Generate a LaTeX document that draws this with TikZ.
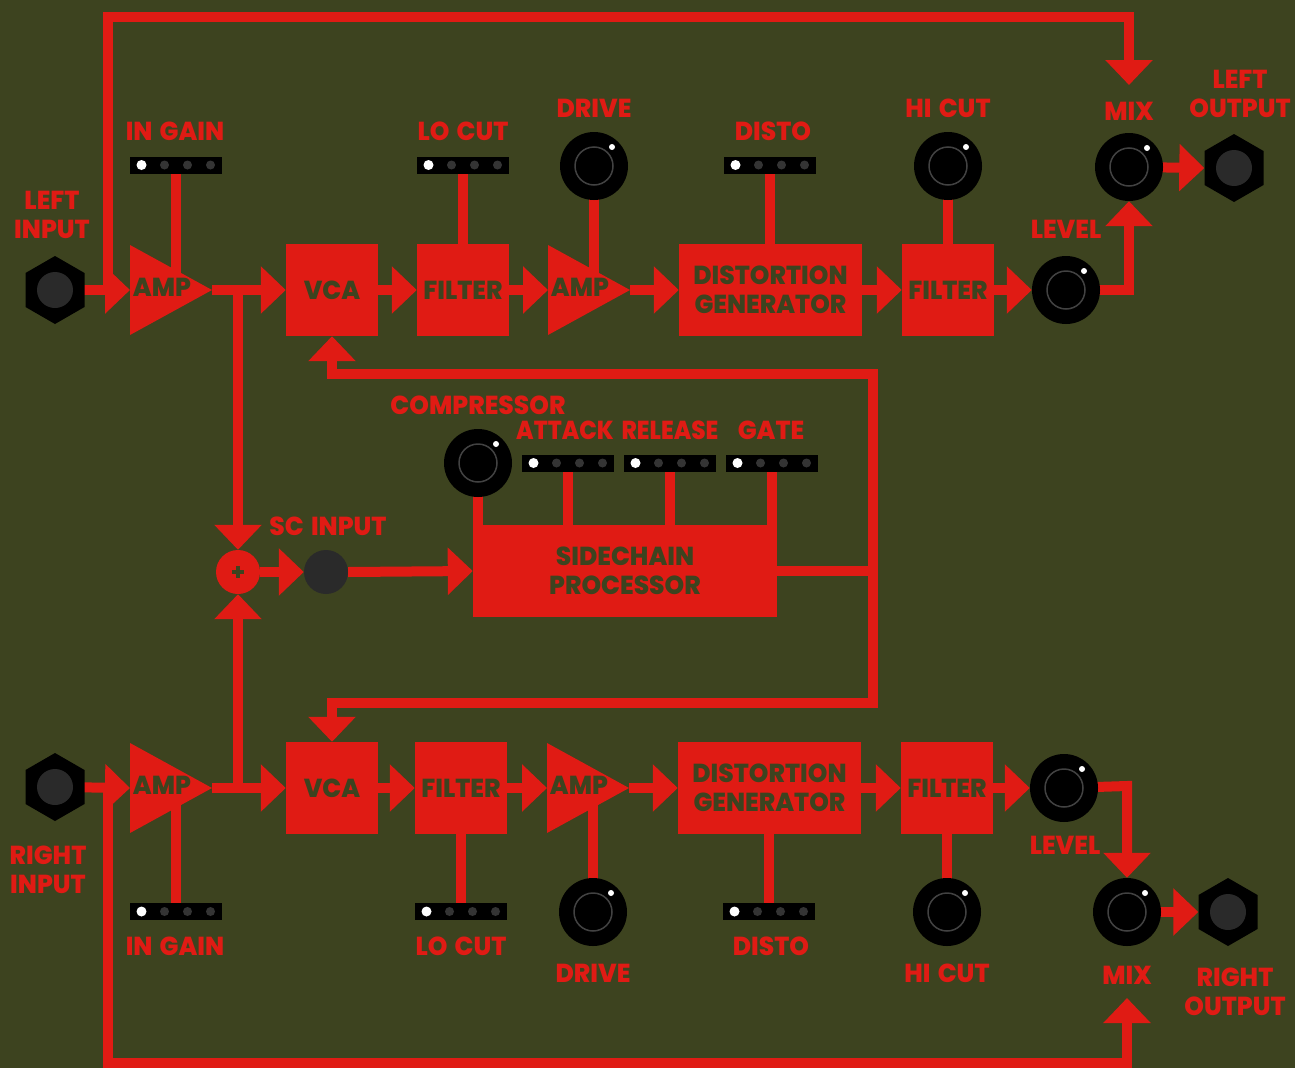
\documentclass[tikz,border=0pt]{standalone}
\usepackage{graphicx}
\usepackage{fontspec}
\setmainfont{Poppins}[BoldFont={* ExtraBold},FakeStretch=0.96,WordSpace=1.5]
\usetikzlibrary{arrows.meta}
\definecolor{bg}{RGB}{61,67,31}
\definecolor{rd}{RGB}{224,27,20}
\definecolor{jk}{RGB}{42,42,42}
\definecolor{dotc}{RGB}{52,52,52}
\definecolor{ringc}{RGB}{66,66,66}
\pgfdeclarelayer{back}
\pgfdeclarelayer{wires}
\pgfsetlayers{back,wires,main}
\newcommand\lblfont{\fontsize{26}{29}\selectfont\bfseries}
\tikzset{
  wire/.style={draw=rd,line width=10pt},
  arr/.style={wire,-{Triangle[width=46pt,length=25pt]}},
  lbl/.style={text=rd,font=\lblfont,align=center,inner sep=0pt},
  boxtxt/.style={text=bg,font=\lblfont,align=center,inner sep=0pt},
  blk/.style={fill=rd,minimum width=92pt,minimum height=92pt,inner sep=0pt,text=bg,font=\lblfont,align=center},
  knobs/.style={circle,fill=black,minimum size=68pt,inner sep=0pt},
  sw/.style={rectangle,fill=black,minimum width=92pt,minimum height=17pt,inner sep=0pt},
  jackn/.style={circle,minimum size=59pt,inner sep=0pt},
  sumn/.style={circle,fill=rd,minimum size=44pt,inner sep=0pt},
  scj/.style={circle,fill=jk,minimum size=44pt,inner sep=0pt},
}
\newcommand\knobat[3]{%
  \node[knobs] (#1) at (#2,#3) {};
  \draw[ringc,line width=1.5pt] (#1.center) circle[radius=19pt];
  \fill[white] (#2+18,#3-19) circle[radius=3pt];
}
\newcommand\switchat[3]{%
  \node[sw] (#1) at (#2,#3) {};
  \fill[white] (#2-34.5,#3) circle[radius=5pt];
  \foreach \d in {-11.5,11.5,34.5} {\fill[dotc] (#2+\d,#3) circle[radius=4.5pt];}
}
\newcommand\jackat[3]{%
  \node[jackn] (#1) at (#2,#3) {};
  \fill[black] (#2,#3+34) -- (#2+29.5,#3+17) -- (#2+29.5,#3-17) -- (#2,#3-34) -- (#2-29.5,#3-17) -- (#2-29.5,#3+17) -- cycle;
  \fill[jk] (#1.center) circle[radius=18pt];
}
\newcommand\ampat[3]{%
  \fill[rd] (#2,#3-45) -- (#2+82,#3) -- (#2,#3+45) -- cycle;
  \coordinate (#1in) at (#2,#3);
  \coordinate (#1out) at (#2+82,#3);
  \node[boxtxt] (#1t) at (#2+32,#3-3) {AMP};
}
\begin{document}
\begin{tikzpicture}[x=1pt,y=-1pt]
\begin{pgfonlayer}{back}
  \fill[bg] (0,0) rectangle (1295,1068);
\end{pgfonlayer}
\useasboundingbox (0,0) rectangle (1295,1068);

% ---------- top (left channel) ----------
\jackat{lin}{55}{290}
\node[lbl] (linl) at (52,215) {LEFT\\INPUT};
\ampat{ampa}{130}{290}
\switchat{inga}{176}{165}
\node[lbl] (ingal) at (175,131) {IN GAIN};
\node[blk] (vcaa) at (332,290) {VCA};
\node[blk] (flta) at (463,290) {FILTER};
\switchat{loca}{463}{165}
\node[lbl] (local) at (463,131) {LO CUT};
\ampat{ampb}{548}{290}
\knobat{drva}{594}{166}
\node[lbl] (drval) at (594,108) {DRIVE};
\node[blk,minimum width=183pt] (dsta) at (770.5,290) {DISTORTION\\GENERATOR};
\switchat{dsla}{770}{165}
\node[lbl] (dslal) at (773,131) {DISTO};
\node[blk] (fltb) at (948,290) {FILTER};
\knobat{hica}{948}{166}
\node[lbl] (hical) at (948,108) {HI CUT};
\knobat{leva}{1066}{290}
\node[lbl] (leval) at (1066,229) {LEVEL};
\knobat{mixa}{1129}{167}
\node[lbl] (mixal) at (1129,111) {MIX};
\jackat{lout}{1234}{168}
\node[lbl] (loutl) at (1240,93.5) {LEFT\\OUTPUT};

% ---------- middle (sidechain) ----------
\node[sumn] (sum) at (238,572) {};
\draw[bg,line width=3.5pt] (232,572) -- (244,572) (238,566) -- (238,578);
\node[scj] (scin) at (326,572) {};
\node[lbl] (scinl) at (328,526) {SC INPUT};
\node[blk,minimum width=304pt] (sc) at (625,571) {SIDECHAIN\\PROCESSOR};
\knobat{comp}{478}{463}
\node[lbl] (compl) at (478,405) {COMPRESSOR};
\switchat{att}{568}{463}
\node[lbl] (attl) at (565,430) {\scalebox{0.93}[1]{ATTACK}};
\switchat{rel}{670}{463}
\node[lbl] (rell) at (670,430) {\scalebox{0.93}[1]{RELEASE}};
\switchat{gat}{772}{463}
\node[lbl] (gatl) at (771,430) {GATE};

% ---------- bottom (right channel) ----------
\jackat{rin}{55}{787}
\node[lbl] (rinl) at (48,869.5) {RIGHT\\INPUT};
\ampat{ampc}{130}{788}
\switchat{ingb}{176}{911.5}
\node[lbl] (ingbl) at (175,946) {IN GAIN};
\node[blk] (vcab) at (332,788) {VCA};
\node[blk] (fltc) at (461,788) {FILTER};
\switchat{locb}{461}{911.5}
\node[lbl] (locbl) at (461,946) {LO CUT};
\ampat{ampd}{547}{788}
\knobat{drvb}{593}{912}
\node[lbl] (drvbl) at (593,973) {DRIVE};
\node[blk,minimum width=183pt] (dstb) at (769.5,788) {DISTORTION\\GENERATOR};
\switchat{dslb}{769}{911.5}
\node[lbl] (dslbl) at (771,946) {DISTO};
\node[blk] (fltd) at (947,788) {FILTER};
\knobat{hicb}{947}{912}
\node[lbl] (hicbl) at (947,973) {HI CUT};
\knobat{levb}{1064}{788}
\node[lbl] (levbl) at (1065,845) {LEVEL};
\knobat{mixb}{1127}{912}
\node[lbl] (mixbl) at (1127,975) {MIX};
\jackat{rout}{1228}{912}
\node[lbl] (routl) at (1235,991.5) {RIGHT\\OUTPUT};

% ---------- coordinates ----------
\coordinate (ja) at (108,290);
\coordinate (tl) at (108,17);
\coordinate (tr) at (1129,17);
\coordinate (mixain) at (1129,85);
\coordinate (jb) at (108,788);
\coordinate (bl) at (108,1063);
\coordinate (br) at (1127,1063);
\coordinate (mixbin) at (1127,998);
\coordinate (ba) at (238,290);
\coordinate (bb) at (238,788);
\coordinate (fbt) at (873,374);
\coordinate (fbb) at (873,703);
\coordinate (lva) at (1129,290);
\coordinate (lvb) at (1127,786);

\begin{pgfonlayer}{wires}
  % top chain
  \draw[arr] (lin.center) -- (ampain);
  \draw[arr] (ja) -- (tl) -- (tr) -- (mixain);
  \draw[arr] (ampaout) -- (vcaa.west);
  \draw[arr] (ba) -- (sum.north);
  \draw[arr] (vcaa.east) -- (flta.west);
  \draw[arr] (flta.east) -- (ampbin);
  \draw[arr] (ampbout) -- (dsta.west);
  \draw[arr] (dsta.east) -- (fltb.west);
  \draw[arr] (fltb.east) -- (leva.west);
  \draw[arr] (leva.center) -- (lva) -- (mixa.south);
  \draw[arr] (mixa.center) -- (lout.west);
  \draw[wire] (inga.center) -- (inga.center |- ampain);
  \draw[wire] (loca.center) -- (loca.center |- flta.center);
  \draw[wire] (drva.center) -- (drva.center |- ampbin);
  \draw[wire] (dsla.center) -- (dsla.center |- dsta.center);
  \draw[wire] (hica.center) -- (hica.center |- fltb.center);
  % sidechain
  \draw[arr] (sum.east) -- (scin.west);
  \draw[arr] (scin.east) -- (sc.west);
  \draw[wire] (comp.center) -- (comp.center |- sc.center);
  \draw[wire] (att.center) -- (att.center |- sc.center);
  \draw[wire] (rel.center) -- (rel.center |- sc.center);
  \draw[wire] (gat.center) -- (gat.center |- sc.center);
  \draw[wire] (sc.east) -- (sc.east -| fbt);
  \draw[arr] (fbb) -- (fbt) -- (vcaa.south |- fbt) -- (vcaa.south);
  \draw[arr] (fbt) -- (fbb) -- (vcab.north |- fbb) -- (vcab.north);
  % bottom chain
  \draw[arr] (rin.center) -- (ampcin);
  \draw[arr] (jb) -- (bl) -- (br) -- (mixbin);
  \draw[arr] (ampcout) -- (vcab.west);
  \draw[arr] (bb) -- (sum.south);
  \draw[arr] (vcab.east) -- (fltc.west);
  \draw[arr] (fltc.east) -- (ampdin);
  \draw[arr] (ampdout) -- (dstb.west);
  \draw[arr] (dstb.east) -- (fltd.west);
  \draw[arr] (fltd.east) -- (levb.west);
  \draw[arr] (levb.center) -- (lvb) -- (mixb.north);
  \draw[arr] (mixb.center) -- (rout.west);
  \draw[wire] (ingb.center) -- (ingb.center |- ampcin);
  \draw[wire] (locb.center) -- (locb.center |- fltc.center);
  \draw[wire] (drvb.center) -- (drvb.center |- ampdin);
  \draw[wire] (dslb.center) -- (dslb.center |- dstb.center);
  \draw[wire] (hicb.center) -- (hicb.center |- fltd.center);
\end{pgfonlayer}
\end{tikzpicture}
\end{document}
